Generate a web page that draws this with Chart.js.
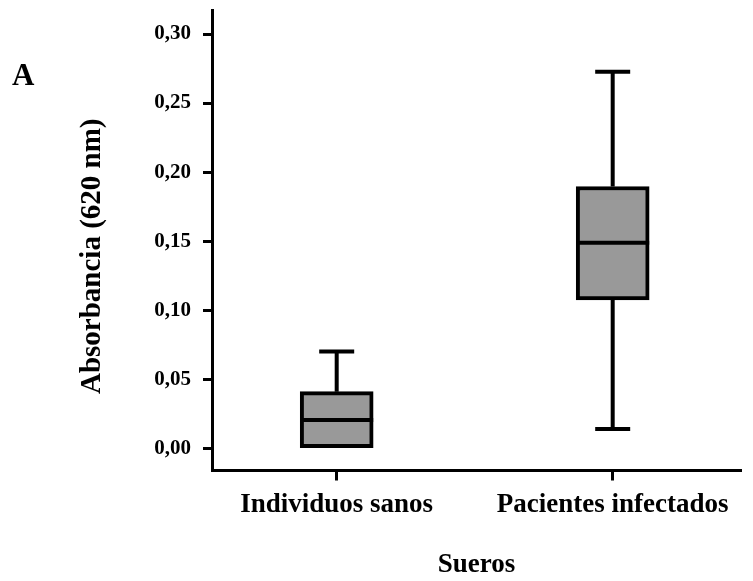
<!DOCTYPE html>
<html><head><meta charset="utf-8">
<script src="https://cdn.jsdelivr.net/npm/chart.js@4.4.0/dist/chart.umd.min.js"></script>
<style>html,body{margin:0;padding:0;background:#fff}#wrap{width:753px;height:581px}</style>
</head><body><div id="wrap"><canvas id="c" width="753" height="581"></canvas></div>
<script>
const categories = ['Individuos sanos', 'Pacientes infectados'];
const whiskerMin = [0.000, 0.014];
const q1 = [0.000, 0.1075];
const median = [0.0205, 0.1488];
const q3 = [0.041, 0.1896];
const whiskerMax = [0.070, 0.2727];
const yTickValues = [0, 0.05, 0.10, 0.15, 0.20, 0.25, 0.30];
const yTickLabels = ['0,00', '0,05', '0,10', '0,15', '0,20', '0,25', '0,30'];
const yTitle = 'Absorbancia (620 nm)';
const xTitle = 'Sueros';
const panelLabel = 'A';

const FONT = '"Liberation Serif", "Times New Roman", serif';
Chart.defaults.font.family = FONT;
Chart.defaults.font.weight = 'bold';
Chart.defaults.color = '#000';

const boxPlugin = {
  id: 'boxWhiskers',
  afterDatasetsDraw(chart) {
    const ctx = chart.ctx, ys = chart.scales.y, meta = chart.getDatasetMeta(0);
    ctx.save();
    ctx.strokeStyle = '#000';
    ctx.lineWidth = 4;
    ctx.lineCap = 'butt';
    const capHalf = 17.5;
    meta.data.forEach((bar, i) => {
      const cx = bar.x, half = bar.width / 2;
      const pMed = ys.getPixelForValue(median[i]);
      const pQ1 = ys.getPixelForValue(q1[i]);
      const pQ3 = ys.getPixelForValue(q3[i]);
      const pMin = ys.getPixelForValue(whiskerMin[i]);
      const pMax = ys.getPixelForValue(whiskerMax[i]);
      ctx.beginPath();
      ctx.moveTo(cx - half, pMed); ctx.lineTo(cx + half, pMed);
      ctx.stroke();
      if (whiskerMax[i] > q3[i]) {
        ctx.beginPath();
        ctx.moveTo(cx, pQ3); ctx.lineTo(cx, pMax);
        ctx.moveTo(cx - capHalf, pMax); ctx.lineTo(cx + capHalf, pMax);
        ctx.stroke();
      }
      if (whiskerMin[i] < q1[i]) {
        ctx.beginPath();
        ctx.moveTo(cx, pQ1); ctx.lineTo(cx, pMin);
        ctx.moveTo(cx - capHalf, pMin); ctx.lineTo(cx + capHalf, pMin);
        ctx.stroke();
      }
    });
    ctx.restore();
  },
  afterDraw(chart) {
    const ctx = chart.ctx, area = chart.chartArea;
    ctx.save();
    ctx.fillStyle = '#000';
    ctx.font = 'bold 29px ' + FONT;
    ctx.translate(93, (area.top + area.bottom) / 2 + 16);
    ctx.rotate(-Math.PI / 2);
    ctx.textAlign = 'center';
    ctx.textBaseline = 'middle';
    ctx.fillText(yTitle, 0, 0);
    ctx.restore();
    ctx.save();
    ctx.fillStyle = '#000';
    ctx.font = 'bold 31px ' + FONT;
    ctx.textAlign = 'left';
    ctx.textBaseline = 'alphabetic';
    ctx.fillText(panelLabel, 12, 85);
    ctx.restore();
  }
};

new Chart(document.getElementById('c'), {
  type: 'bar',
  data: {
    datasets: [{
      data: categories.map((c, i) => ({ x: i, y: [q1[i], q3[i]] })),
      backgroundColor: '#999999',
      borderColor: '#000000',
      borderWidth: 4,
      borderSkipped: false,
      barThickness: 73
    }]
  },
  options: {
    responsive: false,
    animation: false,
    layout: { padding: { top: 10, right: 12, bottom: 0, left: 0 } },
    plugins: { legend: { display: false }, tooltip: { enabled: false } },
    scales: {
      x: {
        type: 'linear',
        min: -0.4518,
        max: 1.4649,
        offset: false,
        afterBuildTicks: s => { s.ticks = categories.map((c, i) => ({ value: i })); },
        afterFit: s => { s.height = 110.5; s.paddingLeft = 0; s.paddingRight = 0; },
        ticks: {
          autoSkip: false, maxRotation: 0, padding: 8,
          font: { size: 27, weight: 'bold' },
          callback: v => categories[Math.round(v)]
        },
        grid: { display: true, offset: false, drawOnChartArea: false, drawTicks: true, tickLength: 10, tickWidth: 3, tickColor: '#000', color: '#000' },
        border: { display: true, width: 3, color: '#000' },
        title: { display: true, text: xTitle, font: { size: 27, weight: 'bold' }, padding: { top: 0, bottom: 0 } }
      },
      y: {
        min: -0.0161,
        max: 0.3174,
        afterBuildTicks: s => { s.ticks = yTickValues.map(v => ({ value: v })); },
        afterFit: s => { s.width = 212; s.paddingTop = 0; s.paddingBottom = 0; },
        ticks: {
          padding: 12,
          font: { size: 21, weight: 'bold' },
          callback: (v, i) => yTickLabels[i]
        },
        grid: { display: true, offset: false, drawOnChartArea: false, drawTicks: true, tickLength: 9, tickWidth: 3, tickColor: '#000', color: '#000' },
        border: { display: true, width: 3, color: '#000' }
      }
    }
  },
  plugins: [boxPlugin]
});
</script></body></html>
